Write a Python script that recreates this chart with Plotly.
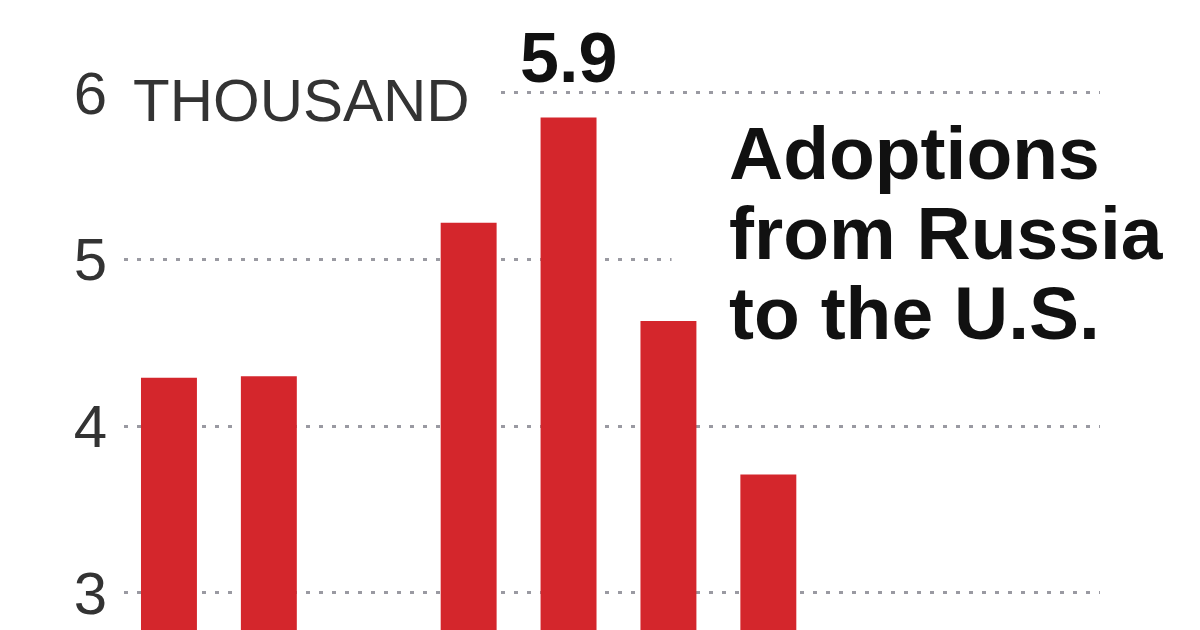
import plotly.graph_objects as go

# Adoptions from Russia to the U.S., thousands (bars readable above the 3k line only)
years = [2000, 2001, 2002, 2003, 2004, 2005, 2006]
adoptions = [4.29, 4.30, None, 5.22, 5.85, 4.63, 3.71]
peak_year = 2004
peak_label = "5.9"
y_ticks = [3, 4, 5, 6]
y_labels = ["3", "4", "5", "6"]
title_lines = ["Adoptions", "from Russia", "to the U.S."]

RED = "#d4262c"
GRID = "#9a9aa2"
TXT = "#333333"
FONT = "Liberation Sans, Arial, sans-serif"

fig = go.Figure(go.Bar(x=years, y=adoptions, marker_color=RED, marker_line_width=0))

# page body has an 8px margin, so the figure is a bit smaller than the window
fig.update_layout(
    width=1192, height=622,
    margin=dict(l=116, r=100, t=0, b=0),
    paper_bgcolor="white", plot_bgcolor="white",
    bargap=0.44, showlegend=False,
    font=dict(family=FONT, color=TXT),
)
fig.update_xaxes(range=[1999.55, 2009.32], visible=False)
fig.update_yaxes(
    range=[2.778, 6.507], tickvals=y_ticks, ticktext=y_labels,
    tickfont=dict(size=60, color=TXT), ticks="", ticklabelstandoff=16,
    showgrid=True, gridcolor=GRID, gridwidth=3, griddash="4px,9px",
    zeroline=False, showline=False,
)

# white masks where the labels interrupt the dotted gridlines
fig.add_shape(type="rect", xref="paper", yref="y", x0=-0.01, x1=0.385, y0=5.92, y1=6.08,
              fillcolor="white", line_width=0, layer="above")
fig.add_shape(type="rect", xref="paper", yref="y", x0=0.561, x1=1.1, y0=4.92, y1=5.08,
              fillcolor="white", line_width=0, layer="above")

fig.add_annotation(text="THOUSAND", xref="paper", yref="y", x=0.007, y=5.95,
                   xanchor="left", yanchor="middle", showarrow=False,
                   font=dict(size=60, color=TXT))

fig.add_annotation(text=peak_label, x=peak_year, y=adoptions[years.index(peak_year)],
                   xanchor="center", yanchor="bottom", yshift=19, showarrow=False,
                   font=dict(size=70, color="#111111", family=FONT, weight="bold"))

for i, line in enumerate(title_lines):
    fig.add_annotation(text=f"<b>{line}</b>", xref="paper", yref="y",
                       x=0.618, y=5.64 - 0.48 * i, xanchor="left", yanchor="middle",
                       showarrow=False, font=dict(size=75, color="#111111"))

fig.write_html("out.html")
